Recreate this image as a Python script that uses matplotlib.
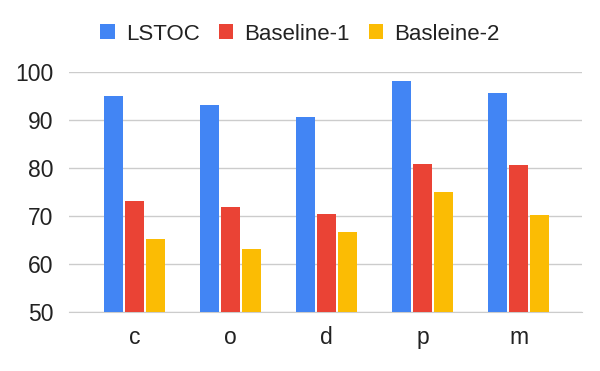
import matplotlib.pyplot as plt
import numpy as np

plt.rcParams['font.family'] = ['Liberation Sans', 'DejaVu Sans']

categories = ['c', 'o', 'd', 'p', 'm']
series_names = ['LSTOC', 'Baseline-1', 'Basleine-2']
lstoc = [95.1, 93.2, 90.6, 98.3, 95.8]
baseline1 = [73.3, 71.9, 70.4, 81.0, 80.6]
baseline2 = [65.3, 63.2, 66.7, 75.0, 70.2]
colors = ['#4285F4', '#EA4335', '#FBBC04']

fig = plt.figure(figsize=(6, 3.71), dpi=100)
ax = fig.add_axes([0.115, 0.158, 0.855, 0.647])

x = np.arange(len(categories))
offsets = [-0.219, 0, 0.219]
for vals, name, col, off in zip([lstoc, baseline1, baseline2], series_names, colors, offsets):
    ax.bar(x + off, np.array(vals) - 50, width=0.198, bottom=50, color=col,
           label=name, zorder=3)

ax.set_ylim(50, 100)
ax.set_xlim(-0.68, 4.66)
ax.set_yticks(range(50, 101, 10))
ax.set_xticks(x)
ax.set_xticklabels(categories)
ax.grid(axis='y', color='#cccccc', linewidth=1, zorder=0)
for s in ['top', 'right', 'left']:
    ax.spines[s].set_visible(False)
ax.spines['bottom'].set_color('#cccccc')
ax.tick_params(axis='both', length=0, labelsize=16.5, colors='#222222')
ax.tick_params(axis='y', pad=11)
ax.tick_params(axis='x', pad=10)

fig.legend(loc='center', bbox_to_anchor=(0.5, 0.908), ncol=3, frameon=False,
           fontsize=16, handlelength=0.65, handleheight=0.65, handletextpad=0.5,
           columnspacing=0.85, labelcolor='#222222')

fig.savefig('out.png', dpi=100)
